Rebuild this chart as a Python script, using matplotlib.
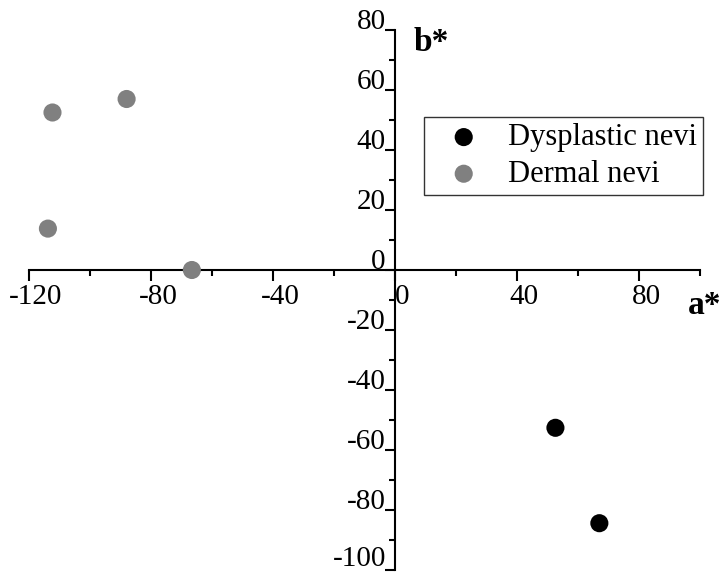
import matplotlib.pyplot as plt
import matplotlib.transforms as mtransforms
import numpy as np

plt.rcParams['font.family'] = ['Liberation Serif', 'DejaVu Serif']

# a*, b* values of each lesion
dysplastic_a = [52.6, 67.0]
dysplastic_b = [-52.6, -84.4]
dermal_a = [-112.3, -88.0, -113.8, -66.6]
dermal_b = [52.5, 57.0, 13.8, 0.0]

x_major = [-120, -80, -40, 0, 40, 80]
x_minor = [-100, -60, -20, 20, 60, 100]
y_major = [-100, -80, -60, -40, -20, 0, 20, 40, 60, 80]
y_minor = [-90, -70, -50, -30, -10, 10, 30, 50, 70]

fig = plt.figure(figsize=(7.2, 5.73), dpi=100)
ax = fig.add_axes([29 / 720, 3 / 573, 671 / 720, 540 / 573])
ax.set_xlim(-120, 100)
ax.set_ylim(-100, 80)

ax.scatter(dysplastic_a, dysplastic_b, s=170, c='black', edgecolors='none',
           label='Dysplastic nevi', clip_on=False, zorder=3)
ax.scatter(dermal_a, dermal_b, s=170, c='#808080', edgecolors='none',
           label='Dermal nevi', clip_on=False, zorder=3)

ax.spines['left'].set_position(('data', 0))
ax.spines['bottom'].set_position(('data', 0))
ax.spines['top'].set_visible(False)
ax.spines['right'].set_visible(False)
for s in ['left', 'bottom']:
    ax.spines[s].set_linewidth(1.5)

ax.set_xticks(x_major)
ax.set_xticks(x_minor, minor=True)
ax.set_xticklabels([str(v) for v in x_major], fontsize=21)
ax.set_yticks(y_major)
ax.set_yticks(y_minor, minor=True)
ax.set_yticklabels([])
ax.tick_params(axis='x', which='major', direction='out', length=8, width=1.5, pad=2)
ax.tick_params(axis='x', which='minor', direction='out', length=4, width=1.5)
ax.tick_params(axis='y', which='major', direction='out', length=7, width=1.5)
ax.tick_params(axis='y', which='minor', direction='out', length=4, width=1.5)

# x labels sit a little right of their ticks
shift = mtransforms.ScaledTranslation(7 / 100, 0, fig.dpi_scale_trans)
for lbl in ax.get_xticklabels():
    if lbl.get_text() == '0':
        lbl.set_horizontalalignment('left')
    else:
        lbl.set_transform(lbl.get_transform() + shift)

# y tick labels sit just above their ticks
for v in y_major:
    off = 1.8 if v > -100 else 0.5
    ax.text(-3, v - off, str(v), ha='right', va='bottom', fontsize=21)

ax.text(6.2, 81, 'b*', fontsize=24, fontweight='bold', ha='left', va='top')
ax.text(96, -6.5, 'a*', fontsize=24, fontweight='bold', ha='left', va='top', clip_on=False)

leg = ax.legend(loc='upper left', bbox_to_anchor=(424 / 720, 1 - 117 / 573),
                bbox_transform=fig.transFigure, borderaxespad=0,
                fontsize=22, frameon=True, fancybox=False, edgecolor='black',
                handletextpad=0.35, borderpad=0.2, labelspacing=0.25,
                handlelength=2.2, markerscale=1.0)
leg.get_frame().set_linewidth(1.0)

fig.savefig('out.png', dpi=100)
